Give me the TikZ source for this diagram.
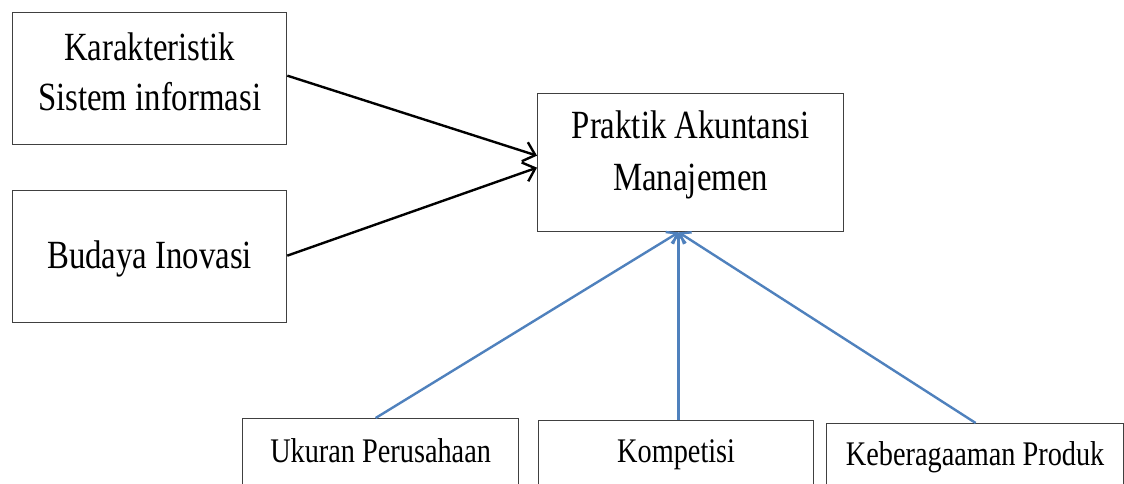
\documentclass[tikz,border=0pt]{standalone}
\usepackage{fontspec}
\setmainfont{Liberation Serif}[FakeStretch=0.82]
\usetikzlibrary{arrows.meta}
\definecolor{lineblue}{RGB}{79,129,189}
\tikzset{
  box/.style={draw=black!75, line width=1.3pt, inner sep=0pt, anchor=north west, align=center},
  bigtext/.style={font=\fontsize{40}{50}\selectfont},
  smalltext/.style={font=\fontsize{34.5}{42}\selectfont},
  blackarrow/.style={draw=black, line width=2.4pt, -{Straight Barb[length=11pt,width=20pt,line width=2.4pt]}},
  bluearrow/.style={draw=lineblue, line width=2.4pt, -{Straight Barb[length=9pt,width=14pt,line width=2.4pt]}}
}
\begin{document}
\begin{tikzpicture}[x=1pt,y=-1pt]
\clip (0,0) rectangle (1124,483);
\fill[white] (0,0) rectangle (1124,483);
% left boxes
\node[box, bigtext, minimum width=274pt, text height=48pt, text depth=84pt] (ksi) at (12,12)
  {\begin{tabular}[t]{@{}c@{}}Karakteristik\\Sistem informasi\end{tabular}};
\node[box, bigtext, minimum width=274pt, text height=78pt, text depth=54pt] (bi) at (12,190)
  {Budaya Inovasi};
% central box
\node[box, minimum width=306pt, text height=45pt, text depth=93pt, font=\fontsize{40}{52}\selectfont] (pam) at (537,93)
  {\begin{tabular}[t]{@{}c@{}}Praktik Akuntansi\\Manajemen\end{tabular}};
% bottom boxes
\node[box, smalltext, minimum width=276pt, text height=44pt, text depth=60pt] (up) at (242,418)
  {Ukuran Perusahaan};
\node[box, smalltext, minimum width=275pt, text height=42pt, text depth=60pt] (kom) at (538,420)
  {Kompetisi};
\node[box, smalltext, minimum width=297pt, text height=42pt, text depth=60pt] (kp) at (826,423)
  {Keberagaaman Produk};
% black arrows
\draw[blackarrow] ([yshift=3pt]ksi.east) -- ([yshift=7pt]pam.west);
\draw[blackarrow] ([yshift=1pt]bi.east) -- ([yshift=-5pt]pam.west);
% blue arrows
\draw[bluearrow] ([xshift=-5pt]up.north) -- ([xshift=-12pt]pam.south);
\draw[bluearrow] ([xshift=2.5pt]kom.north) -- ([xshift=-12pt]pam.south);
\draw[bluearrow] ([xshift=0.5pt]kp.north) -- ([xshift=-12pt]pam.south);
\end{tikzpicture}
\end{document}
